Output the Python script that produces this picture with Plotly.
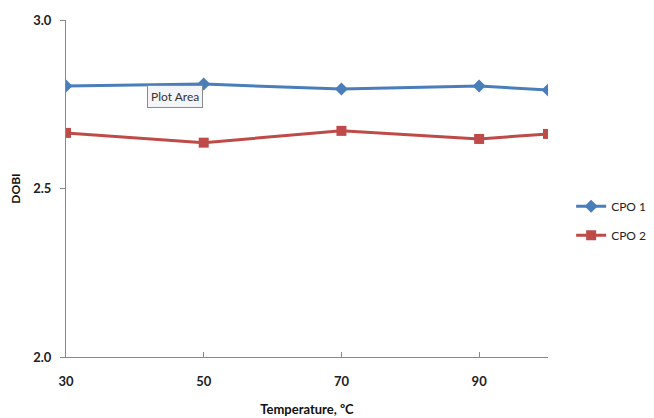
import plotly.graph_objects as go

temperature = [30, 50, 70, 90, 100]
cpo1 = [2.804, 2.810, 2.795, 2.804, 2.792]
cpo2 = [2.665, 2.636, 2.671, 2.647, 2.662]
x_ticks = [30, 50, 70, 90]
y_ticks = [2.0, 2.5, 3.0]

FONT = "Lato"

fig = go.Figure()
fig.add_trace(go.Scatter(
    x=temperature, y=cpo1, name="CPO 1", mode="lines+markers", legendgroup="a",
    line=dict(color="#4a7ebb", width=3),
    marker=dict(symbol="diamond", size=10, color="#4a7ebb"),
))
fig.add_trace(go.Scatter(
    x=temperature, y=cpo2, name="CPO 2", mode="lines+markers", legendgroup="b",
    line=dict(color="#be4b48", width=3),
    marker=dict(symbol="square", size=10, color="#be4b48"),
))

# page body adds ~8px offset, so figure is 646x410 with shifted margins
fig.update_layout(
    width=646, height=410,
    margin=dict(l=58, r=106, t=12, b=61, autoexpand=False),
    paper_bgcolor="white", plot_bgcolor="white",
    font=dict(family=FONT, color="#222222", size=12),
    showlegend=True,
    legend=dict(x=1.048, xanchor="left", y=0.49, yanchor="top",
                font=dict(size=12, family=FONT, color="#222222"),
                bgcolor="rgba(0,0,0,0)", tracegroupgap=10, itemwidth=30),
    xaxis=dict(
        range=[30, 100], tickvals=x_ticks, ticktext=[str(v) for v in x_ticks],
        showgrid=False, zeroline=False,
        showline=True, linecolor="#888888", linewidth=1,
        ticks="inside", ticklen=5, tickcolor="#888888",
        tickfont=dict(size=13, family=FONT, color="#222222", weight="bold"),
        ticklabelstandoff=12,
        title=dict(text="Temperature, ºC", standoff=17,
                   font=dict(size=13, family=FONT, color="#111111", weight="bold")),
    ),
    yaxis=dict(
        range=[2.0, 3.0], tickvals=y_ticks, ticktext=["2.0", "2.5", "3.0"],
        showgrid=False, zeroline=False,
        showline=True, linecolor="#888888", linewidth=1,
        ticks="outside", ticklen=5, tickcolor="#888888",
        tickfont=dict(size=13, family=FONT, color="#222222", weight="bold"),
        ticklabelstandoff=6,
        title=dict(text="DOBI", standoff=13,
                   font=dict(size=12, family=FONT, color="#111111", weight="bold")),
    ),
)

fig.add_annotation(
    x=0.226, y=0.772, xref="paper", yref="paper",
    xanchor="center", yanchor="middle",
    text="Plot Area", showarrow=False,
    font=dict(size=12, family=FONT, color="#333333"),
    bgcolor="#f4f5f9", bordercolor="#8a8a8a", borderwidth=1, borderpad=3,
)

fig.write_html("out.html")
